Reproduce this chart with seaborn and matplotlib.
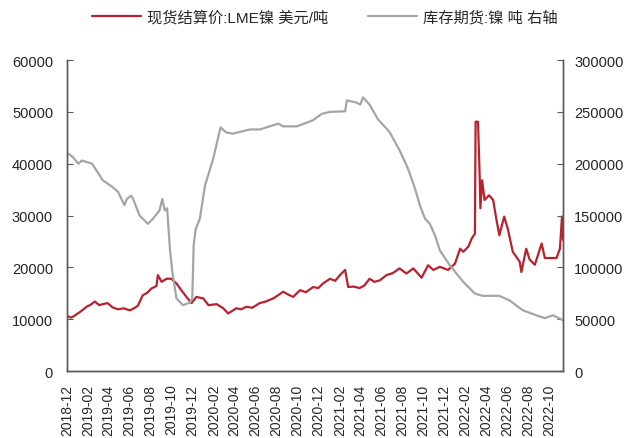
import matplotlib
matplotlib.use("Agg")
import matplotlib.pyplot as plt
import matplotlib.dates as mdates
import pandas as pd
import seaborn as sns

# LME nickel cash settlement price (USD/t)
price_dates = [
    "2018-12-03", "2018-12-12", "2018-12-19", "2019-01-08", "2019-01-18", "2019-01-27",
    "2019-02-08", "2019-02-20", "2019-03-05", "2019-03-15", "2019-03-29", "2019-04-12",
    "2019-04-28", "2019-05-15", "2019-06-01", "2019-06-14", "2019-06-25", "2019-07-09",
    "2019-07-22", "2019-08-03", "2019-08-18", "2019-08-22", "2019-09-02", "2019-09-16",
    "2019-09-30", "2019-10-15", "2019-10-29", "2019-11-13", "2019-11-28", "2019-12-12",
    "2020-01-01", "2020-01-16", "2020-02-09", "2020-02-28", "2020-03-13", "2020-03-25",
    "2020-04-06", "2020-04-20", "2020-05-05", "2020-05-22", "2020-06-13", "2020-06-30",
    "2020-07-22", "2020-08-05", "2020-08-20", "2020-09-05", "2020-09-18", "2020-10-08",
    "2020-10-25", "2020-11-15", "2020-11-30", "2020-12-14", "2021-01-03", "2021-01-18",
    "2021-02-01", "2021-02-16", "2021-02-25", "2021-03-12", "2021-03-30", "2021-04-13",
    "2021-04-28", "2021-05-12", "2021-05-28", "2021-06-16", "2021-07-05", "2021-07-24",
    "2021-08-13", "2021-09-02", "2021-09-26", "2021-10-15", "2021-10-30", "2021-11-18",
    "2021-12-12", "2022-01-01", "2022-01-16", "2022-01-25", "2022-02-09", "2022-02-19",
    "2022-02-28", "2022-03-02", "2022-03-09", "2022-03-14", "2022-03-16", "2022-03-21",
    "2022-03-28", "2022-04-10", "2022-04-22", "2022-05-01", "2022-05-10", "2022-05-24",
    "2022-06-04", "2022-06-18", "2022-07-08", "2022-07-13", "2022-07-27", "2022-08-06",
    "2022-08-21", "2022-09-10", "2022-09-19", "2022-10-04", "2022-10-23", "2022-11-02",
    "2022-11-08", "2022-11-11",
]
price_values = [
    10600, 10300, 10500, 11400, 11900, 12400,
    12800, 13400, 12700, 12900, 13100, 12300,
    11900, 12100, 11700, 12100, 12600, 14600,
    15100, 15900, 16400, 18500, 17200, 17800,
    17800, 16900, 15600, 14300, 13100, 14300,
    14000, 12700, 12900, 12100, 11100, 11600,
    12100, 11900, 12400, 12200, 13100, 13400,
    14000, 14600, 15300, 14700, 14300, 15600,
    15200, 16200, 16000, 16900, 17800, 17400,
    18500, 19500, 16200, 16300, 16000, 16500,
    17800, 17200, 17500, 18500, 18900, 19800,
    18800, 19800, 18000, 20400, 19500, 20100,
    19500, 20700, 23600, 23000, 24000, 25600,
    26500, 48100, 48100, 37200, 31400, 36800,
    33000, 33900, 33000, 29400, 26200, 29800,
    27300, 23000, 21100, 19100, 23600, 21500,
    20500, 24600, 21800, 21800, 21800, 23600,
    29800, 25300,
]

# LME nickel warehouse stocks (t), right axis
stock_dates = [
    "2018-12-03", "2018-12-12", "2018-12-19", "2019-01-03", "2019-01-13", "2019-02-12",
    "2019-03-15", "2019-04-10", "2019-04-28", "2019-05-17", "2019-05-24", "2019-06-05",
    "2019-06-10", "2019-06-30", "2019-07-24", "2019-08-08", "2019-08-27", "2019-09-04",
    "2019-09-11", "2019-09-18", "2019-09-26", "2019-10-03", "2019-10-15", "2019-11-03",
    "2019-11-23", "2019-11-30", "2019-12-04", "2019-12-10", "2019-12-22", "2020-01-06",
    "2020-01-30", "2020-02-20", "2020-03-08", "2020-03-27", "2020-05-15", "2020-06-13",
    "2020-08-06", "2020-08-20", "2020-09-29", "2020-11-15", "2020-12-10", "2021-01-03",
    "2021-02-16", "2021-02-21", "2021-03-20", "2021-04-01", "2021-04-09", "2021-04-28",
    "2021-05-22", "2021-06-25", "2021-07-24", "2021-08-18", "2021-09-07", "2021-09-21",
    "2021-10-06", "2021-10-20", "2021-11-04", "2021-11-18", "2021-12-17", "2022-01-25",
    "2022-02-28", "2022-03-23", "2022-05-10", "2022-06-09", "2022-07-17", "2022-08-25",
    "2022-09-19", "2022-10-13", "2022-11-11",
]
stock_values = [
    210000, 208000, 206000, 200000, 203000, 200000,
    184000, 178000, 173000, 160000, 166000, 169000,
    167000, 150000, 142000, 147000, 155000, 166000,
    155000, 157000, 118000, 96000, 70000, 63500,
    66000, 70000, 121000, 137000, 147000, 179000,
    205000, 235000, 230000, 229000, 233000, 233000,
    238600, 236000, 236000, 242000, 248000, 250000,
    250500, 261000, 259000, 257000, 264000, 257000,
    243000, 230600, 213000, 195000, 176000, 160000,
    147000, 142000, 131000, 116500, 102000, 86000,
    74700, 72500, 72500, 68000, 58600, 53800,
    51000, 53800, 49000,
]

price_label = "现货结算价:LME镍 美元/吨"
stock_label = "库存期货:镍 吨 右轴"
red = "#B8222E"
grey = "#A5A5A5"

sns.set_theme(style="white")
plt.rcParams["font.family"] = ["Liberation Sans", "Noto Sans CJK SC"]

price = pd.DataFrame({"date": pd.to_datetime(price_dates), "value": price_values})
stock = pd.DataFrame({"date": pd.to_datetime(stock_dates), "value": stock_values})

fig = plt.figure(figsize=(6.3, 4.39), dpi=100)
ax = fig.add_axes([0.1063, 0.1526, 0.7874, 0.7084])
ax2 = ax.twinx()

sns.lineplot(data=price, x="date", y="value", ax=ax, color=red, linewidth=1.6,
             label=price_label, legend=False)
sns.lineplot(data=stock, x="date", y="value", ax=ax2, color=grey, linewidth=1.6,
             label=stock_label, legend=False)

ax.set_xlim(pd.Timestamp("2018-12-01"), pd.Timestamp("2022-11-11"))
ax.set_ylim(0, 60000)
ax2.set_ylim(0, 300000)
ax.set_yticks(range(0, 60001, 10000))
ax2.set_yticks(range(0, 300001, 50000))
ax.xaxis.set_major_locator(mdates.MonthLocator(bymonth=[2, 4, 6, 8, 10, 12]))
ax.xaxis.set_major_formatter(mdates.DateFormatter("%Y-%m"))
ax.set_xlabel("")
ax.set_ylabel("")
ax2.set_ylabel("")

for a in (ax, ax2):
    a.spines["top"].set_visible(False)
    for s in ("left", "right", "bottom"):
        a.spines[s].set_color("#595959")
        a.spines[s].set_linewidth(1.0)
    a.grid(False)

ax.tick_params(axis="y", direction="in", length=4, width=0.8, color="#595959",
               labelsize=10.5, labelcolor="#262626", pad=10)
ax2.tick_params(axis="y", direction="in", length=4, width=0.8, color="#595959",
                labelsize=10.5, labelcolor="#262626", pad=8)
ax.tick_params(axis="x", length=0, labelsize=10, labelcolor="#262626", pad=9)
for lbl in ax.get_xticklabels():
    lbl.set_rotation(90)

h1, l1 = ax.get_legend_handles_labels()
h2, l2 = ax2.get_legend_handles_labels()
fig.legend(h1 + h2, l1 + l2, loc="center", bbox_to_anchor=(0.515, 0.958), ncol=2,
           frameon=False, fontsize=11, handlelength=3.2, columnspacing=2.6,
           handletextpad=0.4)

fig.savefig("out.png", dpi=100)
